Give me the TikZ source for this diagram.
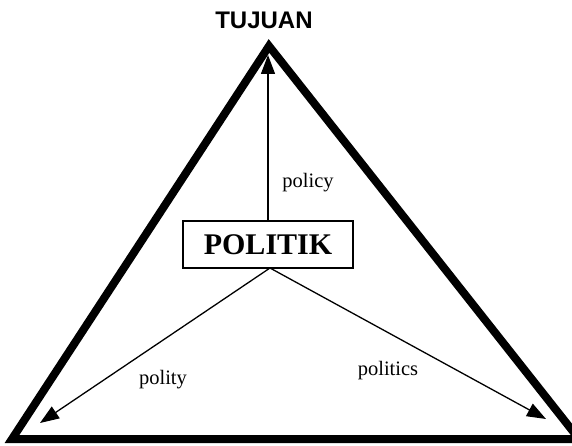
\documentclass[tikz,border=0pt]{standalone}
\usepackage{fontspec}
\setmainfont{Liberation Serif}
\newfontfamily\headfont{Liberation Sans}
\usetikzlibrary{arrows.meta}
\begin{document}
\begin{tikzpicture}[x=1pt,y=-1pt,
  tri/.style={line width=8pt,line join=miter,line cap=butt},
  conn/.style={line width=1.3pt,-{Triangle[length=19pt,width=14pt]}},
  lbl/.style={inner sep=0pt,font=\fontsize{20.5}{22}\selectfont}]
\useasboundingbox (0,0) rectangle (572,446);
\fill[white] (0,0) rectangle (572,446);
\coordinate (A) at (269,46);
\coordinate (L) at (12,439);
\coordinate (R) at (579,439);
\draw[tri] (L) -- (A) -- (R) -- cycle;
\node[inner sep=0pt,font=\headfont\bfseries\fontsize{24}{26}\selectfont] (tuj) at (264,20) {TUJUAN};
\node[draw,line width=1.5pt,minimum width=170pt,minimum height=47pt,inner sep=0pt,
  font=\bfseries\fontsize{30}{32}\selectfont] (pol) at (268,244.5) {POLITIK};
\coordinate (tipT) at (268,55);
\coordinate (tipL) at (40,423);
\coordinate (tipR) at (546,419);
\coordinate (src) at (270,268);
\draw[conn] (pol.north) -- (tipT);
\draw[conn] (src) -- (tipL);
\draw[conn] (src) -- (tipR);
\node[lbl] (lpolicy) at (308,183) {policy};
\node[lbl] (lpolity) at (163,380) {polity};
\node[lbl] (lpolitics) at (388,371) {politics};
\end{tikzpicture}
\end{document}
